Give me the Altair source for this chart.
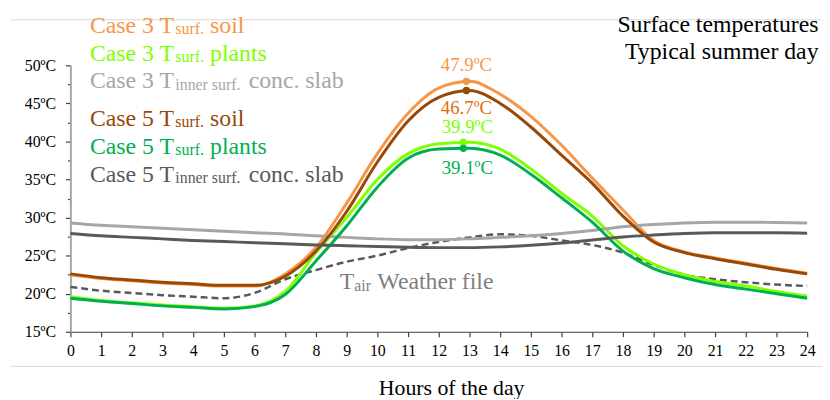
import altair as alt
import pandas as pd

hours = list(range(25))

case3_soil = [22.5, 22.0, 21.7, 21.4, 21.2, 21.0, 21.0, 22.6, 26.1, 31.9, 38.4, 43.7, 47.0, 47.9, 46.2,
              43.3, 39.5, 35.2, 31.0, 27.0, 25.5, 24.7, 24.0, 23.3, 22.7]
case3_plants = [19.6, 19.1, 18.8, 18.5, 18.3, 18.1, 18.4, 20.3, 25.4, 30.0, 35.0, 38.4, 39.7, 39.9, 39.0,
                36.4, 33.2, 30.2, 26.3, 23.9, 22.5, 21.6, 21.0, 20.3, 19.7]
case3_slab = [29.3, 29.0, 28.8, 28.6, 28.4, 28.2, 28.0, 27.85, 27.6, 27.4, 27.2, 27.1, 27.1, 27.2, 27.4,
              27.6, 27.9, 28.3, 28.8, 29.1, 29.3, 29.4, 29.4, 29.35, 29.3]
case5_soil = [22.6, 22.1, 21.8, 21.5, 21.3, 21.1, 21.1, 22.3, 25.6, 30.8, 37.3, 42.7, 45.8, 46.7, 45.0,
              41.9, 38.2, 34.5, 30.2, 26.8, 25.4, 24.6, 23.9, 23.2, 22.6]
case5_plants = [19.4, 19.0, 18.7, 18.4, 18.2, 18.0, 18.3, 19.9, 24.3, 28.9, 34.0, 37.8, 39.0, 39.1, 38.2,
                35.7, 32.6, 29.4, 25.6, 23.3, 22.1, 21.2, 20.6, 20.0, 19.4]
case5_slab = [27.9, 27.6, 27.4, 27.2, 27.0, 26.85, 26.7, 26.55, 26.4, 26.3, 26.2, 26.1, 26.05, 26.05, 26.15,
              26.35, 26.65, 27.05, 27.45, 27.7, 27.9, 28.0, 28.0, 28.0, 27.95]
t_air = [20.9, 20.4, 20.1, 19.8, 19.6, 19.4, 20.1, 21.9, 23.1, 24.2, 25.0, 26.0, 26.8, 27.4, 27.8,
         27.6, 27.0, 26.4, 25.4, 23.8, 22.5, 21.9, 21.5, 21.2, 21.0]

series_names = ["Case 3 soil", "Case 3 plants", "Case 3 slab", "Case 5 soil", "Case 5 plants", "Case 5 slab"]
series_values = [case3_soil, case3_plants, case3_slab, case5_soil, case5_plants, case5_slab]
series_colors = ["#F79646", "#80FF00", "#A6A6A6", "#984807", "#00B050", "#595959"]

peak_hours = [12.9, 12.9, 12.8, 12.8]
peak_values = [47.9, 46.7, 39.9, 39.1]
peak_colors = ["#F79646", "#984807", "#80FF00", "#00B050"]
peak_label_colors = ["#F79646", "#E46C0A", "#80FF00", "#00B050"]
peak_label_dy = [-10, 24, -9, 26]
peak_label_dx = [0, 0, 4, 4]

y_ticks = [15 + 2.5 * i for i in range(15)]

FONT = "Liberation Serif"

x_scale = alt.Scale(domain=[0, 24], nice=False)
y_scale = alt.Scale(domain=[15, 50], nice=False)

x_axis = alt.Axis(values=hours, title=None, labelFont=FONT, labelFontSize=16, labelColor="#000000",
                  labelAngle=0, domainColor="#404040", domainWidth=1.2, tickColor="#404040",
                  tickSize=5, tickWidth=1.2, labelPadding=6, grid=False,
                  labelOverlap=False, labelFlush=False, labelBound=False)
y_axis = alt.Axis(values=y_ticks, title=None, labelFont=FONT, labelFontSize=16, labelColor="#000000",
                  labelExpr="datum.value % 5 == 0 ? datum.value + 'ºC' : ''",
                  domainColor="#A6A6A6", domainWidth=2, tickColor="#404040",
                  tickSize={"condition": {"test": "datum.value % 5 == 0", "value": 5}, "value": 3},
                  tickWidth=1.2, labelPadding=10, grid=False,
                  labelOverlap=False, labelFlush=False, labelBound=False)


def X(field):
    return alt.X(field, scale=x_scale, axis=x_axis)


def Y(field):
    return alt.Y(field, scale=y_scale, axis=y_axis)


layers = []

# frame lines
frame = pd.DataFrame({"k": [0]})
for yy in [-46, 304]:
    layers.append(alt.Chart(frame).mark_rule(color="#D9D9D9", strokeWidth=1).encode(
        x=alt.value(-60), x2=alt.value(759), y=alt.value(yy)))

# air temperature dashed
air_df = pd.DataFrame({"hour": hours, "temp": t_air})
layers.append(alt.Chart(air_df).mark_line(color="#595959", strokeWidth=2.5, strokeDash=[7, 4],
                                          interpolate="monotone").encode(
    x=X("hour:Q"), y=Y("temp:Q")))

for name, vals, col in zip(series_names, series_values, series_colors):
    df = pd.DataFrame({"hour": hours, "temp": vals})
    layers.append(alt.Chart(df).mark_line(color=col, strokeWidth=3, interpolate="monotone").encode(
        x=X("hour:Q"), y=Y("temp:Q")))

peaks = pd.DataFrame({"hour": peak_hours, "temp": peak_values, "col": peak_colors,
                      "lcol": peak_label_colors,
                      "label": [f"{v:.1f}ºC" for v in peak_values]})
layers.append(alt.Chart(peaks).mark_circle(size=55, opacity=1).encode(
    x=X("hour:Q"), y=Y("temp:Q"), color=alt.Color("col:N", scale=None)))
for i in range(len(peak_values)):
    layers.append(alt.Chart(peaks.iloc[[i]]).mark_text(
        font=FONT, fontSize=19, align="center", baseline="alphabetic",
        dy=peak_label_dy[i], dx=peak_label_dx[i]).encode(
        x=X("hour:Q"), y=Y("temp:Q"),
        text="label:N", color=alt.Color("lcol:N", scale=None)))

# legend-like labels (main text, subscript, rest)
leg_main = ["Case 3 T", "Case 3 T", "Case 3 T", "Case 5 T", "Case 5 T", "Case 5 T"]
leg_sub = ["surf.", "surf.", "inner surf.", "surf.", "surf.", "inner surf."]
leg_rest = ["soil", "plants", "conc. slab", "soil", "plants", "conc. slab"]
leg_y = [-33, -4.7, 23.3, 61, 89.3, 117.7]
leg_rest_x = [141, 141, 180, 141, 141, 180]

ann_rows = []
for i in range(6):
    ann_rows.append({"px": 19.7, "py": leg_y[i], "t": leg_main[i], "s": 24, "c": series_colors[i]})
    ann_rows.append({"px": 106, "py": leg_y[i] + 1.5, "t": leg_sub[i], "s": 16, "c": series_colors[i]})
    ann_rows.append({"px": leg_rest_x[i], "py": leg_y[i], "t": leg_rest[i], "s": 24, "c": series_colors[i]})
ann_rows.append({"px": 272, "py": 226, "t": "T", "s": 24, "c": "#7F7F7F"})
ann_rows.append({"px": 286.7, "py": 227.5, "t": "air", "s": 16, "c": "#7F7F7F"})
ann_rows.append({"px": 310, "py": 226, "t": "Weather file", "s": 24, "c": "#7F7F7F"})
ann = pd.DataFrame(ann_rows)
layers.append(alt.Chart(ann).mark_text(font=FONT, align="left", baseline="alphabetic").encode(
    x=alt.X("px:Q", scale=None), y=alt.Y("py:Q", scale=None), text="t:N",
    size=alt.Size("s:Q", scale=None), color=alt.Color("c:N", scale=None)))

title_df = pd.DataFrame({"px": [755.5, 755.5], "py": [-34, -6],
                         "t": ["Surface temperatures", "Typical summer day"]})
layers.append(alt.Chart(title_df).mark_text(font=FONT, fontSize=24, align="right", baseline="alphabetic",
                                            color="#000000").encode(
    x=alt.X("px:Q", scale=None), y=alt.Y("py:Q", scale=None), text="t:N"))

xt_df = pd.DataFrame({"px": [385], "py": [333], "t": ["Hours of the day"]})
layers.append(alt.Chart(xt_df).mark_text(font=FONT, fontSize=22, align="center", baseline="alphabetic",
                                         color="#000000").encode(
    x=alt.X("px:Q", scale=None), y=alt.Y("py:Q", scale=None), text="t:N"))

chart = alt.layer(*layers).properties(
    width=744, height=269,
    autosize=alt.AutoSizeParams(type="none"),
    padding={"left": 63, "top": 56, "right": 15, "bottom": 66},
    background="#FFFFFF",
).configure_view(stroke=None)

chart.save("out.html", embed_options={"renderer": "svg", "actions": False})
